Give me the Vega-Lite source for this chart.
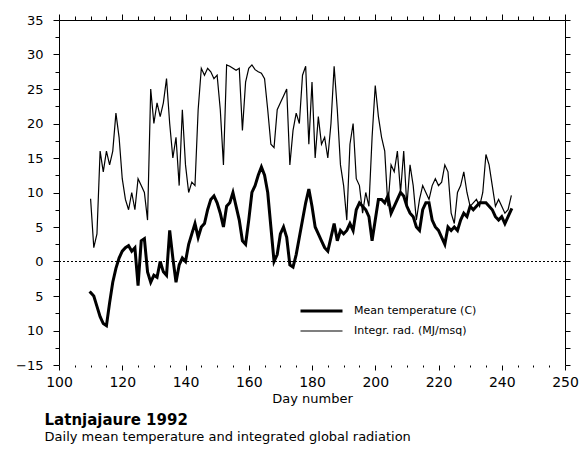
{
  "$schema": "https://vega.github.io/schema/vega-lite/v6.json",
  "width": 506,
  "height": 345,
  "autosize": {"type": "none"},
  "padding": {"left": 59, "top": 20, "right": 19, "bottom": 92},
  "background": "white",
  "config": {
    "view": {"stroke": null},
    "font": "DejaVu Sans",
    "axis": {"labelFont": "DejaVu Sans", "titleFont": "DejaVu Sans", "labelColor": "black", "titleColor": "black", "domainColor": "black", "tickColor": "black", "grid": false}
  },
  "title": {
    "text": "Latnjajaure 1992",
    "subtitle": "Daily mean temperature and integrated global radiation",
    "orient": "bottom",
    "anchor": "start",
    "dx": 29,
    "offset": 8,
    "font": "DejaVu Sans",
    "fontSize": 15,
    "fontWeight": "bold",
    "color": "black",
    "subtitleFont": "DejaVu Sans",
    "subtitleFontSize": 13,
    "subtitleColor": "black",
    "subtitlePadding": 3
  },
  "datasets": {
    "series": [
      {"day": 110, "temp": -4.5, "rad": 9},
      {"day": 111, "temp": -5, "rad": 2},
      {"day": 112, "temp": -6.5, "rad": 4},
      {"day": 113, "temp": -8, "rad": 16},
      {"day": 114, "temp": -9, "rad": 13},
      {"day": 115, "temp": -9.3, "rad": 16},
      {"day": 116, "temp": -6, "rad": 14},
      {"day": 117, "temp": -3, "rad": 16},
      {"day": 118, "temp": -1, "rad": 21.5},
      {"day": 119, "temp": 0.5, "rad": 18},
      {"day": 120, "temp": 1.5, "rad": 12},
      {"day": 121, "temp": 2, "rad": 9},
      {"day": 122, "temp": 2.3, "rad": 7.5},
      {"day": 123, "temp": 1.5, "rad": 10},
      {"day": 124, "temp": 2, "rad": 7.5},
      {"day": 125, "temp": -3.5, "rad": 12},
      {"day": 126, "temp": 3, "rad": 11},
      {"day": 127, "temp": 3.3, "rad": 10},
      {"day": 128, "temp": -1.5, "rad": 6},
      {"day": 129, "temp": -3, "rad": 25},
      {"day": 130, "temp": -2, "rad": 20},
      {"day": 131, "temp": -2.3, "rad": 23},
      {"day": 132, "temp": 0, "rad": 21},
      {"day": 133, "temp": -1.5, "rad": 23},
      {"day": 134, "temp": -2, "rad": 26.5},
      {"day": 135, "temp": 4.5, "rad": 20},
      {"day": 136, "temp": 0.5, "rad": 15},
      {"day": 137, "temp": -3, "rad": 18},
      {"day": 138, "temp": -0.5, "rad": 11},
      {"day": 139, "temp": 0.5, "rad": 22},
      {"day": 140, "temp": 0, "rad": 14},
      {"day": 141, "temp": 2.5, "rad": 10},
      {"day": 142, "temp": 4, "rad": 11.5},
      {"day": 143, "temp": 5.5, "rad": 11},
      {"day": 144, "temp": 3.5, "rad": 22},
      {"day": 145, "temp": 5, "rad": 28},
      {"day": 146, "temp": 5.5, "rad": 27},
      {"day": 147, "temp": 7.5, "rad": 28},
      {"day": 148, "temp": 9, "rad": 27.5},
      {"day": 149, "temp": 9.5, "rad": 26.5},
      {"day": 150, "temp": 8.5, "rad": 27},
      {"day": 151, "temp": 7, "rad": 22},
      {"day": 152, "temp": 5, "rad": 14},
      {"day": 153, "temp": 8, "rad": 28.5},
      {"day": 154, "temp": 8.5, "rad": 28.3},
      {"day": 155, "temp": 10, "rad": 28},
      {"day": 156, "temp": 8, "rad": 27.7},
      {"day": 157, "temp": 6, "rad": 28},
      {"day": 158, "temp": 3, "rad": 19},
      {"day": 159, "temp": 2.5, "rad": 26},
      {"day": 160, "temp": 6, "rad": 28},
      {"day": 161, "temp": 10, "rad": 28.5},
      {"day": 162, "temp": 11, "rad": 27.8},
      {"day": 163, "temp": 12.5, "rad": 27.5},
      {"day": 164, "temp": 13.7, "rad": 27.3},
      {"day": 165, "temp": 12.5, "rad": 26.5},
      {"day": 166, "temp": 10, "rad": 22},
      {"day": 167, "temp": 5, "rad": 17},
      {"day": 168, "temp": 0, "rad": 16.5},
      {"day": 169, "temp": 1, "rad": 22},
      {"day": 170, "temp": 4, "rad": 23},
      {"day": 171, "temp": 5, "rad": 24},
      {"day": 172, "temp": 3.5, "rad": 25},
      {"day": 173, "temp": -0.5, "rad": 14},
      {"day": 174, "temp": -0.8, "rad": 19},
      {"day": 175, "temp": 1, "rad": 21.5},
      {"day": 176, "temp": 3.5, "rad": 20},
      {"day": 177, "temp": 6, "rad": 27},
      {"day": 178, "temp": 8.5, "rad": 28.3},
      {"day": 179, "temp": 10.5, "rad": 17},
      {"day": 180, "temp": 8, "rad": 26},
      {"day": 181, "temp": 5, "rad": 15},
      {"day": 182, "temp": 4, "rad": 21},
      {"day": 183, "temp": 3, "rad": 17},
      {"day": 184, "temp": 2, "rad": 18},
      {"day": 185, "temp": 1.5, "rad": 15},
      {"day": 186, "temp": 3.5, "rad": 20},
      {"day": 187, "temp": 5.5, "rad": 28.3},
      {"day": 188, "temp": 3, "rad": 22},
      {"day": 189, "temp": 4.5, "rad": 14},
      {"day": 190, "temp": 4, "rad": 11},
      {"day": 191, "temp": 4.5, "rad": 6},
      {"day": 192, "temp": 5.5, "rad": 17},
      {"day": 193, "temp": 4.5, "rad": 20},
      {"day": 194, "temp": 7.5, "rad": 12},
      {"day": 195, "temp": 8.5, "rad": 11},
      {"day": 196, "temp": 8, "rad": 7},
      {"day": 197, "temp": 7.5, "rad": 10},
      {"day": 198, "temp": 6.5, "rad": 8},
      {"day": 199, "temp": 3, "rad": 18},
      {"day": 200, "temp": 6, "rad": 25.5},
      {"day": 201, "temp": 9, "rad": 21},
      {"day": 202, "temp": 9, "rad": 18},
      {"day": 203, "temp": 8.5, "rad": 16},
      {"day": 204, "temp": 9.5, "rad": 8},
      {"day": 205, "temp": 7, "rad": 14},
      {"day": 206, "temp": 8, "rad": 13},
      {"day": 207, "temp": 9, "rad": 16},
      {"day": 208, "temp": 10, "rad": 10},
      {"day": 209, "temp": 9.5, "rad": 16},
      {"day": 210, "temp": 8, "rad": 8},
      {"day": 211, "temp": 7, "rad": 14},
      {"day": 212, "temp": 6.5, "rad": 11},
      {"day": 213, "temp": 5, "rad": 6},
      {"day": 214, "temp": 4.5, "rad": 9},
      {"day": 215, "temp": 7.5, "rad": 11},
      {"day": 216, "temp": 8.5, "rad": 10},
      {"day": 217, "temp": 8.5, "rad": 9},
      {"day": 218, "temp": 6, "rad": 11},
      {"day": 219, "temp": 5, "rad": 12},
      {"day": 220, "temp": 4.5, "rad": 11},
      {"day": 221, "temp": 3.5, "rad": 11.5},
      {"day": 222, "temp": 2.5, "rad": 14},
      {"day": 223, "temp": 5, "rad": 13},
      {"day": 224, "temp": 4.5, "rad": 7},
      {"day": 225, "temp": 5, "rad": 5.5},
      {"day": 226, "temp": 4.5, "rad": 10},
      {"day": 227, "temp": 6, "rad": 11},
      {"day": 228, "temp": 7, "rad": 13},
      {"day": 229, "temp": 6.5, "rad": 10},
      {"day": 230, "temp": 8, "rad": 8},
      {"day": 231, "temp": 7.5, "rad": 8.5},
      {"day": 232, "temp": 8, "rad": 9},
      {"day": 233, "temp": 8.5, "rad": 8},
      {"day": 234, "temp": 8.5, "rad": 10},
      {"day": 235, "temp": 8.5, "rad": 15.5},
      {"day": 236, "temp": 8, "rad": 14},
      {"day": 237, "temp": 7.5, "rad": 11},
      {"day": 238, "temp": 6.5, "rad": 8},
      {"day": 239, "temp": 6, "rad": 9},
      {"day": 240, "temp": 6.5, "rad": 8},
      {"day": 241, "temp": 5.5, "rad": 7},
      {"day": 242, "temp": 6.5, "rad": 7.5},
      {"day": 243, "temp": 7.5, "rad": 9.5}
    ]
  },
  "resolve": {"axis": {"x": "independent", "y": "independent"}},
  "layer": [
    {
      "data": {"name": "series"},
      "transform": [
        {"fold": ["temp", "rad"], "as": ["key", "value"]},
        {"calculate": "datum.key === 'temp' ? 'Mean temperature (C)' : 'Integr. rad. (MJ/msq)'", "as": "series"}
      ],
      "mark": {"type": "line", "color": "black", "strokeJoin": "miter", "strokeCap": "square"},
      "encoding": {
        "x": {
          "field": "day", "type": "quantitative",
          "scale": {"domain": [100, 260], "nice": false, "zero": false},
          "axis": {
            "orient": "bottom", "title": "Day number", "titleFontSize": 13, "titleFontWeight": "normal", "titlePadding": 3,
            "values": [100, 105, 110, 115, 120, 125, 130, 135, 140, 145, 150, 155, 160, 165, 170, 175, 180, 185, 190, 195, 200, 205, 210, 215, 220, 225, 230, 235, 240, 245, 250, 255, 260],
            "domain": false,
            "tickSize": {"condition": {"test": "datum.value % 20 === 0", "value": 5}, "value": 2},
            "labelExpr": "datum.value % 20 === 0 ? (datum.value === 260 ? '250' : datum.label) : ''",
            "labelFontSize": 14, "labelPadding": 5, "labelFlush": false, "labelOverlap": false
          }
        },
        "y": {
          "field": "value", "type": "quantitative",
          "scale": {"domain": [-15, 35], "nice": false, "zero": false},
          "axis": {
            "orient": "left", "title": null,
            "values": [-15, -12.5, -10, -7.5, -5, -2.5, 0, 2.5, 5, 7.5, 10, 12.5, 15, 17.5, 20, 22.5, 25, 27.5, 30, 32.5, 35],
            "tickSize": {"condition": {"test": "datum.value % 5 === 0", "value": 6}, "value": 4},
            "labelExpr": "datum.value % 5 !== 0 ? '' : (datum.value === -5 ? '5' : (datum.value === -10 ? '10' : datum.label))",
            "labelFontSize": 13, "labelPadding": 10, "labelFlush": false, "labelOverlap": false
          }
        },
        "strokeWidth": {
          "field": "series", "type": "nominal",
          "scale": {"domain": ["Mean temperature (C)", "Integr. rad. (MJ/msq)"], "range": [3, 1.2]},
          "legend": {
            "title": null, "orient": "none", "legendX": 240, "legendY": 284,
            "symbolType": "stroke", "symbolSize": 1764, "symbolStrokeColor": "black",
            "clipHeight": 14,
            "labelFontSize": 11, "labelColor": "black", "labelOffset": 10, "rowPadding": 6
          }
        },
        "detail": {"field": "series"}
      }
    },
    {
      "data": {"values": [{"y": 0}]},
      "mark": {"type": "rule", "color": "black", "strokeWidth": 1, "strokeDash": [2, 2]},
      "encoding": {
        "y": {"field": "y", "type": "quantitative", "axis": {
          "orient": "right", "title": null, "labels": false,
          "values": [-15, -12.5, -10, -7.5, -5, -2.5, 0, 2.5, 5, 7.5, 10, 12.5, 15, 17.5, 20, 22.5, 25, 27.5, 30, 32.5, 35],
          "tickSize": 5
        }},
        "x": {"datum": 100, "type": "quantitative", "axis": {
          "orient": "top", "title": null, "labels": false,
          "values": [100, 105, 110, 115, 120, 125, 130, 135, 140, 145, 150, 155, 160, 165, 170, 175, 180, 185, 190, 195, 200, 205, 210, 215, 220, 225, 230, 235, 240, 245, 250, 255, 260],
          "tickSize": {"condition": {"test": "datum.value % 20 === 0", "value": 6}, "value": 4}
        }},
        "x2": {"datum": 260}
      }
    }
  ]
}
